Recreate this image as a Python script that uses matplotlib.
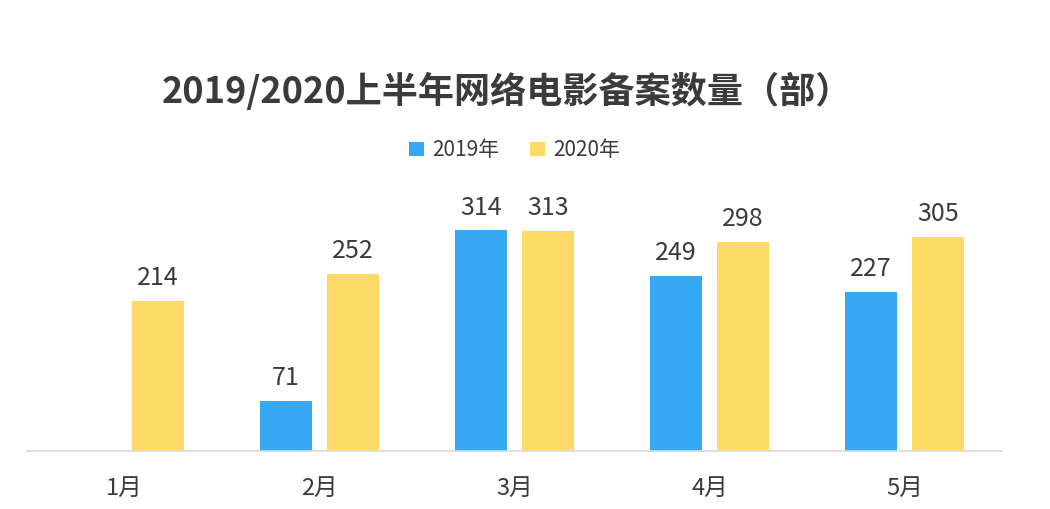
import matplotlib
matplotlib.use("Agg")
import matplotlib.pyplot as plt
import numpy as np

plt.rcParams['font.family'] = ['Noto Sans CJK SC', 'DejaVu Sans']

# data
months = ['1月', '2月', '3月', '4月', '5月']
films_2019 = [None, 71, 314, 249, 227]
films_2020 = [214, 252, 313, 298, 305]
series_names = ['2019年', '2020年']

blue = '#36a8f4'
yellow = '#fdd966'
txt = '#3b3b3b'

fig = plt.figure(figsize=(10.5, 5.09), dpi=100)
ax = fig.add_axes([0.0257, 0.114, 0.9286, 0.483])

x = np.arange(len(months))
w = 0.267
off = 0.172

y19 = [v if v is not None else 0 for v in films_2019]
b1 = ax.bar(x - off, y19, w, color=blue, label=series_names[0])
b2 = ax.bar(x + off, films_2020, w, color=yellow, label=series_names[1])

for xi, v in zip(x, films_2019):
    if v is None:
        continue
    ax.text(xi - off, v + 14, str(v), ha='center', va='bottom', fontsize=18, color=txt)
for xi, v in zip(x, films_2020):
    ax.text(xi + off, v + 14, str(v), ha='center', va='bottom', fontsize=18, color=txt)

ax.set_xlim(-0.5, len(months) - 0.5)
ax.set_ylim(0, 350)
ax.set_xticks(x)
ax.set_xticklabels(months, fontsize=17, color=txt)
ax.tick_params(axis='x', length=0, pad=19)
ax.set_yticks([])
for s in ['top', 'right', 'left']:
    ax.spines[s].set_visible(False)
ax.spines['bottom'].set_color('#d9d9d9')
ax.spines['bottom'].set_linewidth(1.2)

fig.text(0.483, 0.819, '2019/2020上半年网络电影备案数量（部）', ha='center', va='center',
         fontsize=26, fontweight='bold', color=txt)

fig.legend(handles=[b1, b2], loc='center', bbox_to_anchor=(0.49, 0.705), ncol=2,
           frameon=False, fontsize=15, handlelength=0.7, handleheight=0.7,
           handletextpad=0.4, columnspacing=1.5, labelcolor=txt)

fig.savefig('out.png', dpi=100)
